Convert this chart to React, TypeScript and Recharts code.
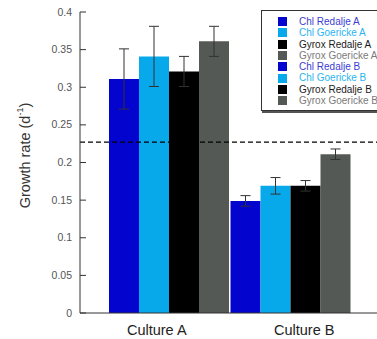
import { BarChart, Bar, XAxis, YAxis, ErrorBar, ReferenceLine, Legend } from 'recharts';

const categories = ['Culture A', 'Culture B'];
const chlRedalje = [0.311, 0.149];
const chlGoericke = [0.341, 0.169];
const gyroxRedalje = [0.321, 0.169];
const gyroxGoericke = [0.361, 0.211];
const chlRedaljeErr = [0.04, 0.007];
const chlGoerickeErr = [0.04, 0.011];
const gyroxRedaljeErr = [0.02, 0.007];
const gyroxGoerickeErr = [0.02, 0.007];
const yTicks = [0, 0.05, 0.1, 0.15, 0.2, 0.25, 0.3, 0.35, 0.4];
const threshold = 0.227;

const seriesKeys = ['chlRedalje', 'chlGoericke', 'gyroxRedalje', 'gyroxGoericke'];
const seriesNames = ['Chl Redalje', 'Chl Goericke', 'Gyrox Redalje', 'Gyrox Goericke'];
const cultureSuffix = ['A', 'B'];
const barColors = ['#0404cf', '#08a9ea', '#000000', '#555955'];
const legendTextColors = ['#3c3cd2', '#2ab4f0', '#1a1a1a', '#7a7a7a'];

const data = categories.map((name, i) => ({
  name,
  chlRedalje: chlRedalje[i],
  chlGoericke: chlGoericke[i],
  gyroxRedalje: gyroxRedalje[i],
  gyroxGoericke: gyroxGoericke[i],
  chlRedaljeErr: chlRedaljeErr[i],
  chlGoerickeErr: chlGoerickeErr[i],
  gyroxRedaljeErr: gyroxRedaljeErr[i],
  gyroxGoerickeErr: gyroxGoerickeErr[i],
}));

const font = '"Liberation Sans", Arial, sans-serif';

const YTick = (props: any) => {
  const { x, y, payload } = props;
  return (
    <g>
      <line x1={x + 8} x2={x + 14} y1={y} y2={y} stroke="#333" />
      <text x={x} y={y} dy={3.5} textAnchor="end" fontSize={10.5} fill="#555" fontFamily={font}>
        {payload.value}
      </text>
    </g>
  );
};

// labels sit a little off the group centres in the original
const XTick = (props: any) => {
  const { x, y, payload, index } = props;
  const shift = index === 0 ? -13 : 13;
  return (
    <text x={x + shift} y={y} dy={22} textAnchor="middle" fontSize={14.5} fill="#222" fontFamily={font}>
      {payload.value}
    </text>
  );
};

const YTitle = (props: any) => {
  const { viewBox } = props;
  const cx = viewBox.x + 25;
  const cy = viewBox.y + viewBox.height / 2 - 7;
  return (
    <text
      x={cx}
      y={cy}
      transform={`rotate(-90, ${cx}, ${cy})`}
      textAnchor="middle"
      dominantBaseline="central"
      fontSize={14.5}
      fill="#333"
      fontFamily={font}
    >
      <tspan>Growth rate (d</tspan>
      <tspan dy={-5} fontSize={9}>-1</tspan>
      <tspan dy={5}>)</tspan>
    </text>
  );
};

const LegendBox = () => {
  const rows = cultureSuffix.flatMap((c) => seriesNames.map((n, i) => ({ label: `${n} ${c}`, i })));
  return (
    <div
      style={{
        border: '1px solid #333',
        boxShadow: '1px 2px 0 #555',
        background: '#fff',
        padding: '5px 0 4px 16px',
        fontFamily: font,
        fontSize: 10,
        lineHeight: '11.3px',
        whiteSpace: 'nowrap',
      }}
    >
      {rows.map((r) => (
        <div key={r.label} style={{ display: 'flex', alignItems: 'center', height: 11.3 }}>
          <span style={{ width: 9, height: 9, background: barColors[r.i], marginRight: 12, display: 'inline-block' }} />
          <span style={{ color: legendTextColors[r.i] }}>{r.label}</span>
        </div>
      ))}
    </div>
  );
};

export default function App() {
  return (
    <div style={{ position: 'absolute', left: 0, top: 0, width: 377, height: 339, overflow: 'hidden', background: '#fff' }}>
      <BarChart
        width={400}
        height={339}
        data={data}
        margin={{ top: 12, right: 23, left: 0, bottom: 0 }}
        barCategoryGap={0}
        barGap={0}
      >
        <XAxis
          dataKey="name"
          height={26}
          padding={{ left: 29, right: 25 }}
          tickLine={false}
          tickSize={0}
          tickMargin={0}
          axisLine={{ stroke: '#333' }}
          tick={<XTick />}
        />
        <YAxis
          width={80}
          domain={[0, 0.4]}
          ticks={yTicks}
          tickLine={false}
          tickSize={0}
          tickMargin={8}
          axisLine={{ stroke: '#333' }}
          tick={<YTick />}
          label={<YTitle />}
        />
        {seriesKeys.map((k, i) => (
          <Bar key={k} dataKey={k} name={seriesNames[i]} fill={barColors[i]} isAnimationActive={false}>
            <ErrorBar dataKey={`${k}Err`} width={5} stroke="#333" strokeWidth={1} direction="y" />
          </Bar>
        ))}
        <ReferenceLine y={threshold} stroke="#000" strokeWidth={1.2} strokeDasharray="5 3" />
        <Legend
          layout="vertical"
          align="center"
          verticalAlign="middle"
          wrapperStyle={{ left: 261, top: 10, width: 140 }}
          content={<LegendBox />}
        />
      </BarChart>
    </div>
  );
}
